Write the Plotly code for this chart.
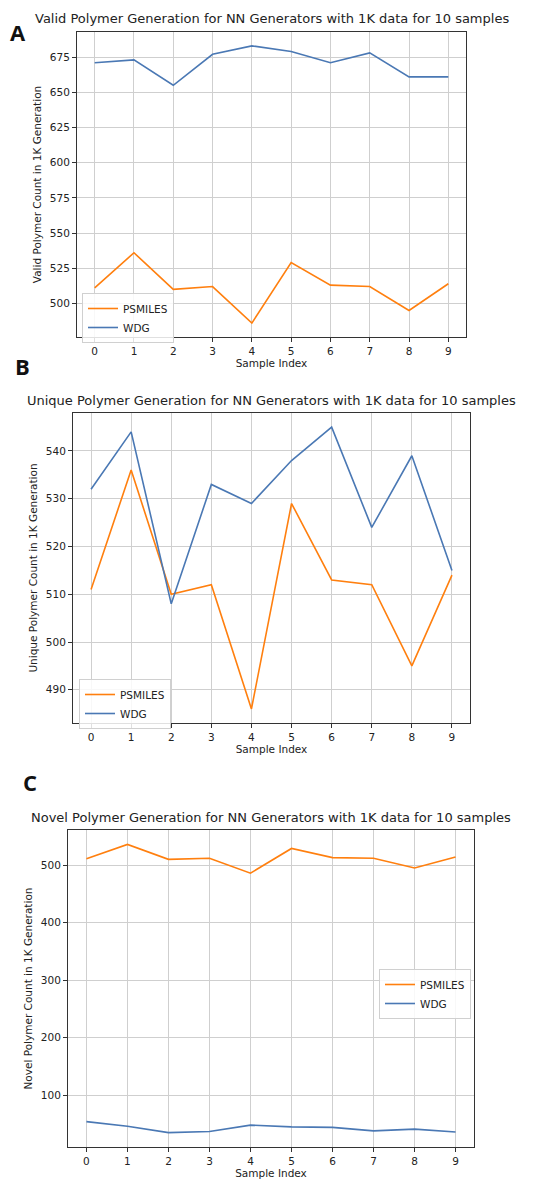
import plotly.graph_objects as go

sample_index = [0, 1, 2, 3, 4, 5, 6, 7, 8, 9]

valid_psmiles = [511, 536, 510, 512, 486, 529, 513, 512, 495, 514]
valid_wdg = [671, 673, 655, 677, 683, 679, 671, 678, 661, 661]

unique_psmiles = [511, 536, 510, 512, 486, 529, 513, 512, 495, 514]
unique_wdg = [532, 544, 508, 533, 529, 538, 545, 524, 539, 515]

novel_psmiles = [511, 536, 510, 512, 486, 529, 513, 512, 495, 514]
novel_wdg = [54, 46, 35, 37, 48, 45, 44, 38, 41, 36]

valid_ticks = [500, 525, 550, 575, 600, 625, 650, 675]
unique_ticks = [490, 500, 510, 520, 530, 540]
novel_ticks = [100, 200, 300, 400, 500]

titles = [
    "Valid Polymer Generation for NN Generators with 1K data for 10 samples",
    "Unique Polymer Generation for NN Generators with 1K data for 10 samples",
    "Novel Polymer Generation for NN Generators with 1K data for 10 samples",
]
ytitles = [
    "Valid Polymer Count in 1K Generation",
    "Unique Polymer Count in 1K Generation",
    "Novel Polymer Count in 1K Generation",
]
panel_letters = ["A", "B", "C"]

ORANGE = "#ff7f0e"
BLUE = "#4a78b4"
OFF = 8  # page body margin
W, H = 550 - OFF, 1184 - OFF

# plot areas in window pixels (left, right, top, bottom)
areas = [(77, 466, 32, 337), (73, 470, 413, 723), (68, 474, 830, 1147)]
legend_pos = [(82, 293), (79, 679), (379, 969)]
title_y = [19, 401, 817]
letter_pos = [(18, 32), (22, 366), (30, 782)]


def fx(p):
    return (p - OFF) / W


def fy(p):
    return 1 - (p - OFF) / H


series = [
    (valid_psmiles, valid_wdg, valid_ticks),
    (unique_psmiles, unique_wdg, unique_ticks),
    (novel_psmiles, novel_wdg, novel_ticks),
]

fig = go.Figure()
layout = {}
annotations = []
FONT = "DejaVu Sans"
TXT = "#222222"

for i, (ps, wd, ticks) in enumerate(series):
    n = "" if i == 0 else str(i + 1)
    leg = "legend" if i == 0 else f"legend{i+1}"
    fig.add_trace(go.Scatter(x=sample_index, y=ps, mode="lines", name="PSMILES",
                             line=dict(color=ORANGE, width=1.6),
                             xaxis=f"x{n}", yaxis=f"y{n}", legend=leg))
    fig.add_trace(go.Scatter(x=sample_index, y=wd, mode="lines", name="WDG",
                             line=dict(color=BLUE, width=1.6),
                             xaxis=f"x{n}", yaxis=f"y{n}", legend=leg))
    allv = ps + wd
    lo, hi = min(allv), max(allv)
    m = 0.05 * (hi - lo)
    l, r, t, b = areas[i]
    common = dict(showline=True, linecolor="#333333", linewidth=1, mirror=True,
                  ticks="outside", ticklen=4, tickcolor="#333333",
                  showgrid=True, gridcolor="#cfcfcf", gridwidth=1,
                  zeroline=False, tickfont=dict(family=FONT, size=10.5, color=TXT))
    layout[f"xaxis{n}"] = dict(common, domain=[fx(l), fx(r)], range=[-0.45, 9.45],
                               tickvals=sample_index, anchor=f"y{n}",
                               title=dict(text="Sample Index", standoff=2,
                                          font=dict(family=FONT, size=10.5, color=TXT)))
    layout[f"yaxis{n}"] = dict(common, domain=[fy(b), fy(t)], range=[lo - m, hi + m],
                               tickvals=ticks, anchor=f"x{n}",
                               title=dict(text=ytitles[i], standoff=6,
                                          font=dict(family=FONT, size=10.5, color=TXT)))
    lx, ly = legend_pos[i]
    layout[leg] = dict(x=fx(lx), y=fy(ly), xanchor="left", yanchor="top",
                       bgcolor="rgba(255,255,255,0.85)", bordercolor="#d0d0d0", borderwidth=1,
                       font=dict(family=FONT, size=10.5, color=TXT),
                       tracegroupgap=0, itemwidth=30)
    annotations.append(dict(text=titles[i], x=fx((l + r) / 2), y=fy(title_y[i]),
                            xref="paper", yref="paper", showarrow=False,
                            xanchor="center", yanchor="middle",
                            font=dict(family=FONT, size=13, color=TXT)))
    px, py = letter_pos[i]
    annotations.append(dict(text=f"<b>{panel_letters[i]}</b>", x=fx(px), y=fy(py),
                            xref="paper", yref="paper", showarrow=False,
                            xanchor="center", yanchor="middle",
                            font=dict(family="Open Sans", size=22, color="#111111")))

fig.update_layout(**layout)
fig.update_layout(width=W, height=H, margin=dict(l=0, r=0, t=0, b=0),
                  paper_bgcolor="white", plot_bgcolor="white",
                  annotations=annotations, showlegend=True)

fig.write_html("out.html")
